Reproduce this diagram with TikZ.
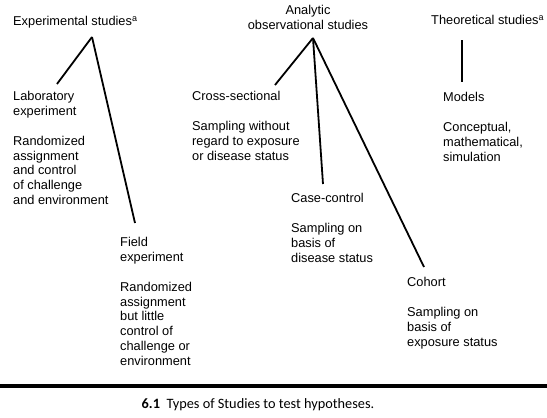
\documentclass[tikz,border=0pt]{standalone}
\usepackage{fontspec}
\setmainfont{Liberation Sans}
\newfontfamily\capfont{Carlito}
\newcommand{\studyfont}{\fontsize{12.8}{14.8}\selectfont}

\begin{document}
\begin{tikzpicture}[
    x=1pt, y=-1pt,
    study/.style={anchor=north west, align=left, inner sep=0pt, font=\studyfont},
    heading/.style={study},
    branch/.style={line width=1.8pt},
    stem/.style={line width=2.8pt},
    rule/.style={line width=4pt}
  ]
    \useasboundingbox (0,0) rectangle (547,418);

    % the three kinds of study
    \node[heading] (expt) at (13,16.5) {Experimental studies\textsuperscript{a}};
    \node[heading, anchor=north, align=center] (analytic) at (308,5) {Analytic\\observational studies};
    \node[heading] (theory) at (431,15.5) {Theoretical studies\textsuperscript{a}};

    % designs under each kind
    \node[study] (lab) at (13,91.5) {Laboratory\\experiment\\[14.8pt]Randomized\\assignment\\and control\\of challenge\\and environment};
    \node[study] (field) at (120,237.5) {Field\\experiment\\[14.8pt]Randomized\\assignment\\but little\\control of\\challenge or\\environment};
    \node[study] (cross) at (192,91.5) {Cross-sectional\\[14.8pt]Sampling without\\regard to exposure\\or disease status};
    \node[study] (casectl) at (291,193.5) {Case-control\\[14.8pt]Sampling on\\basis of\\disease status};
    \node[study] (cohort) at (407,277.5) {Cohort\\[14.8pt]Sampling on\\basis of\\exposure status};
    \node[study] (models) at (443,92.5) {Models\\[14.8pt]Conceptual,\\mathematical,\\simulation};

    % fork points and line tips
    \coordinate (exptfork) at (92,37);
    \coordinate (anafork) at (313,38);
    \coordinate (labtip) at (57,84);
    \coordinate (fieldtip) at (135,223);
    \coordinate (crosstip) at (275,85);
    \coordinate (casetip) at (323,184);
    \coordinate (cohorttip) at (424,267);
    \coordinate (theorytop) at (462,40);
    \coordinate (modelstip) at (462,82);

    \draw[branch] (exptfork) -- (labtip);
    \draw[branch] (exptfork) -- (fieldtip);
    \draw[branch] (anafork) -- (crosstip);
    \draw[branch] (anafork) -- (casetip);
    \draw[branch] (anafork) -- (cohorttip);
    \draw[stem] (theorytop) -- (modelstip);

    % caption under the rule
    \draw[rule] (0,386) -- (547,386);
    \node[font=\capfont\fontsize{14.3}{16}\selectfont, inner sep=0pt] (caption) at (258,405) {\textbf{6.1}\ \ Types of Studies to test hypotheses.};
  \end{tikzpicture}
\end{document}
